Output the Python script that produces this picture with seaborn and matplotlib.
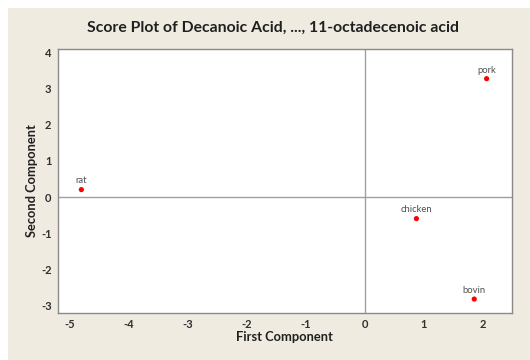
import matplotlib
matplotlib.use("Agg")
import matplotlib.pyplot as plt
import seaborn as sns
import pandas as pd
from matplotlib.patches import Rectangle

# score values
samples = ["rat", "pork", "chicken", "bovin"]
first_comp = [-4.80, 2.07, 0.88, 1.86]
second_comp = [0.21, 3.27, -0.59, -2.81]

xticks = [-5, -4, -3, -2, -1, 0, 1, 2]
yticks = [-3, -2, -1, 0, 1, 2, 3, 4]

df = pd.DataFrame({"sample": samples, "first": first_comp, "second": second_comp})

sns.set_style("white")
plt.rcParams["font.family"] = ["Lato", "DejaVu Sans"]
plt.rcParams["axes.unicode_minus"] = False

beige = "#efebe1"
fig = plt.figure(figsize=(5.3, 3.6), dpi=100, facecolor="white")
fig.patches.append(Rectangle((8 / 530, 0), 1, 1 - 8 / 360, transform=fig.transFigure,
                             facecolor=beige, edgecolor="none", zorder=-10))
ax = fig.add_axes([0.109, 0.131, 0.857, 0.733])
ax.set_facecolor("white")

ax.axhline(0, color="#a0a0a0", lw=1, zorder=1)
ax.axvline(0, color="#a0a0a0", lw=1, zorder=1)

sns.scatterplot(data=df, x="first", y="second", ax=ax, color="#ff0000",
                s=14, edgecolor="none", zorder=3, legend=False)

for name, x, y in zip(samples, first_comp, second_comp):
    ax.annotate(name, (x, y), xytext=(0, 3), textcoords="offset points",
                ha="center", va="bottom", fontsize=6.8, color="#505050")

ax.set_xlim(-5.2, 2.5)
ax.set_ylim(-3.19, 4.09)
ax.set_xticks(xticks)
ax.set_yticks(yticks)

for sp in ax.spines.values():
    sp.set_color("#8a8a8a")
    sp.set_linewidth(1)

ax.tick_params(axis="both", direction="out", length=3, width=0.8, color="#8a8a8a",
               labelsize=8, labelcolor="#303030", pad=1.5)
for lab in ax.get_xticklabels() + ax.get_yticklabels():
    lab.set_fontweight("bold")

ax.set_xlabel("First Component", fontsize=9.3, fontweight="bold", color="#202020", labelpad=1)
ax.set_ylabel("Second Component", fontsize=9.3, fontweight="bold", color="#202020", labelpad=2)
fig.text(0.5 + 0.015, 1 - 28 / 360, "Score Plot of Decanoic Acid, ..., 11-octadecenoic acid",
         ha="center", va="center", fontsize=11.3, fontweight="bold", color="#202020")

fig.savefig("out.png", dpi=100, facecolor=fig.get_facecolor())
